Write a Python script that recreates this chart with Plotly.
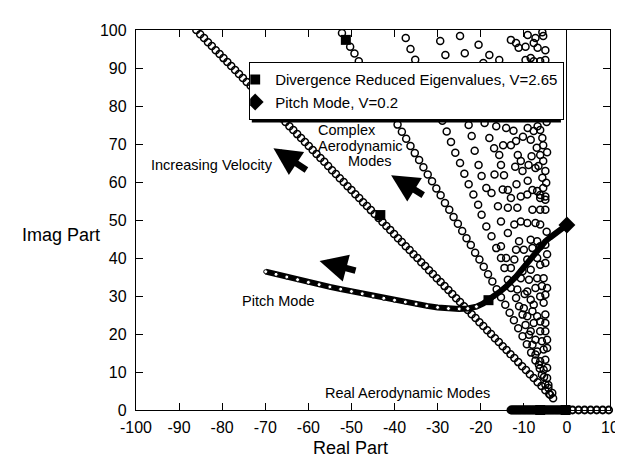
import plotly.graph_objects as go

# ---------------- data ----------------
# Complex aerodynamic mode locus A (densest ray)
modeA_x = [-86.0, -85.1, -84.2, -83.3, -82.4, -81.5, -80.6, -79.7, -78.8, -77.9,
           -77.0, -76.1, -75.2, -74.3, -73.4, -72.5, -71.6, -70.7, -69.8, -68.9,
           -68.0, -67.1, -66.2, -65.3, -64.4, -63.5, -62.6, -61.7, -60.8, -59.9,
           -59.0, -58.1, -57.2, -56.3, -55.4, -54.5, -53.6, -52.7, -51.8, -50.9,
           -50.0, -49.1, -48.2, -47.3, -46.4, -45.5, -44.6, -43.7, -42.8, -41.9,
           -41.0, -40.1, -39.2, -38.3, -37.4, -36.5, -35.6, -34.7, -33.8, -32.9,
           -32.0, -31.1, -30.2, -29.3, -28.4, -27.5, -26.6, -25.7, -24.8, -23.9,
           -23.0, -22.1, -21.2, -20.3, -19.4, -18.5, -17.6, -16.7, -15.8, -14.9,
           -14.0, -13.1, -12.2, -11.3, -10.4, -9.5, -8.6, -7.7, -6.8, -5.9,
           -5.0, -4.1, -3.2]
modeA_y = [100.0, 98.9, 97.9, 96.8, 95.8, 94.7, 93.7, 92.6, 91.6, 90.5,
           89.5, 88.4, 87.4, 86.3, 85.3, 84.2, 83.2, 82.1, 81.0, 80.0,
           78.9, 77.9, 76.8, 75.8, 74.7, 73.7, 72.6, 71.6, 70.5, 69.5,
           68.4, 67.4, 66.3, 65.3, 64.2, 63.1, 62.1, 61.0, 60.0, 58.9,
           57.9, 56.8, 55.8, 54.7, 53.7, 52.6, 51.6, 50.5, 49.5, 48.4,
           47.4, 46.3, 45.2, 44.2, 43.1, 42.1, 41.0, 40.0, 38.9, 37.9,
           36.8, 35.8, 34.7, 33.7, 32.6, 31.6, 30.5, 29.4, 28.4, 27.3,
           26.3, 25.2, 24.2, 23.1, 22.1, 21.0, 20.0, 18.9, 17.9, 16.8,
           15.8, 14.7, 13.7, 12.6, 11.5, 10.5, 9.4, 8.4, 7.3, 6.3,
           5.2, 4.2, 3.1]

# locus B
modeB_x = [-52.2, -51.3, -50.3, -49.3, -48.3, -47.3, -46.3, -45.3, -44.3, -43.3,
           -42.3, -41.3, -40.3, -39.3, -38.3, -37.3, -36.3, -35.3, -34.3, -33.3,
           -32.3, -31.3, -30.3, -29.3, -28.3, -27.3, -26.3, -25.3, -24.3, -23.3,
           -22.3, -21.3, -20.3, -19.3, -18.3, -17.3, -16.3, -15.3, -14.3, -13.3,
           -12.3, -11.3, -10.3, -9.3, -8.3, -7.3, -6.3, -5.3, -4.3, -3.4]
modeB_y = [99.2, 97.5, 95.6, 93.8, 91.8, 90.0, 88.2, 86.3, 84.4, 82.5,
           80.7, 78.9, 76.9, 75.1, 73.2, 71.4, 69.5, 67.6, 65.8, 63.9,
           62.0, 60.2, 58.3, 56.5, 54.5, 52.7, 50.8, 49.0, 47.1, 45.2,
           43.4, 41.4, 39.6, 37.7, 35.7, 33.8, 31.8, 29.7, 27.7, 25.6,
           23.6, 21.5, 19.4, 17.3, 15.1, 13.0, 10.9, 8.7, 6.6, 4.5]

# locus C
modeC_x = [-37.4, -36.3, -35.2, -34.2, -33.2, -32.1, -31.0, -30.0, -28.9, -27.9,
           -26.9, -25.9, -24.8, -23.8, -22.8, -21.7, -20.6, -19.8, -18.7, -17.5,
           -16.4, -15.3, -14.5, -13.7, -13.0, -11.8, -11.1, -10.3, -9.6, -8.8,
           -8.0, -7.3, -6.5, -5.8, -5.0, -3.9]
modeC_y = [97.9, 95.0, 92.2, 89.5, 86.8, 84.0, 81.4, 78.7, 76.1, 73.3,
           70.5, 67.7, 65.0, 62.2, 59.4, 56.7, 54.0, 51.4, 48.3, 45.7,
           42.6, 40.0, 37.4, 34.3, 32.1, 29.5, 27.3, 25.1, 22.4, 19.8,
           17.2, 14.6, 11.9, 9.3, 6.7, 4.0]

# remaining complex aerodynamic modes (scattered)
cloud_x = [-29.4, -28.2, -27.3, -26.4, -25.5,
           -24.8, -23.7, -20.5, -19.4, -18.0, -15.7, -13.0, -11.8, -11.2, -9.1,
           -7.7, -6.8, -5.5, -5.0, -9.6, -7.7, -6.2, -5.0, -7.3, -5.7, -9.6, -8.4,
           -22.8, -22.1, -21.4, -20.5, -19.8, -18.7,
           -19.1, -18.0, -16.9, -15.7, -15.3, -14.6, -13.7,
           -16.4, -14.1, -14.8, -13.0, -11.8, -11.4, -10.7, -10.3, -9.1, -8.0,
           -8.4, -7.7, -6.8, -6.2, -5.7, -5.5, -6.2, -5.5, -6.6, -5.0, -5.7,
           -5.5, -6.2, -5.0, -9.1, -8.9, -7.3,
           -12.4, -10.2, -12.0, -16.8, -11.7, -7.0, -8.2, -4.7, -4.6, -4.8,
           -17.5, -14.9, -13.0, -10.7, -9.2, -6.9, -6.2, -5.0,
           -16.0, -13.7, -11.5, -8.0, -6.2, -5.0,
           -15.3, -12.2, -10.7, -9.2, -7.3, -6.2,
           -13.7, -11.1, -8.4, -6.9, -4.7,
           -15.3, -11.8, -10.0, -8.0, -6.2, -5.0,
           -14.1, -12.2, -9.2, -6.9, -4.6,
           -13.0, -10.3, -8.4, -6.2, -5.0,
           -10.7, -8.8, -6.9, -5.4,
           -11.5, -9.2, -7.3, -5.8, -4.6,
           -8.4, -6.2, -5.0, -9.8,
           -10.0, -7.7, -5.4,
           -9.2, -6.9, -5.0, -8.0,
           -7.7, -6.2, -5.0,
           -8.4, -6.2, -5.0,
           -7.3, -5.8, -4.6,
           -6.9, -5.4, -4.6,
           -6.2, -5.0,
           -5.4, -4.6,
           -4.6, -4.3]
cloud_y = [97.1, 93.4, 89.8, 86.2, 82.6,
           98.4, 93.9, 96.1, 91.3, 93.4, 92.1, 97.4, 96.6, 95.3, 98.7,
           96.6, 95.3, 98.4, 94.7, 92.1, 91.8, 91.8, 92.1, 97.9, 99.4, 95.6, 92.6,
           75.0, 72.1, 68.2, 64.5, 61.6, 58.4,
           75.5, 71.6, 68.9, 67.1, 64.5, 61.8, 57.9,
           74.7, 74.2, 69.7, 69.7, 70.8, 67.1, 65.5, 62.9, 60.3, 57.9,
           71.1, 73.4, 74.7, 73.7, 71.6, 69.7, 67.1, 65.5, 64.2, 62.9, 61.1,
           58.4, 56.6, 55.3, 74.2, 64.5, 63.7,
           73.5, 71.9, 64.0, 62.0, 59.4, 69.0, 66.8, 75.8, 67.8, 59.8,
           57.1, 58.0, 55.8, 56.2, 56.7, 57.6, 55.8, 56.2,
           53.6, 53.2, 53.2, 52.7, 52.7, 52.7,
           49.6, 48.8, 49.6, 49.2, 49.2, 48.8,
           46.6, 44.4, 44.8, 44.4, 46.9,
           43.1, 42.2, 42.2, 42.6, 43.1, 43.5,
           40.0, 39.6, 39.6, 40.0, 41.0,
           37.4, 36.5, 36.9, 38.2, 38.7,
           34.7, 34.3, 34.7, 34.7,
           31.7, 31.2, 32.1, 32.6, 32.1,
           29.0, 29.9, 30.3, 30.5,
           26.8, 27.7, 28.2,
           24.7, 24.7, 25.1, 26.0,
           22.9, 23.3, 22.9,
           20.7, 20.7, 20.7,
           18.5, 18.1, 18.5,
           15.4, 15.9, 16.3,
           12.8, 13.2,
           10.6, 11.1,
           8.4, 5.8]

# pitch mode locus
pitch_x = [-69.9, -67.5, -65.0, -62.5, -60.0, -57.5, -55.0, -52.5, -50.0, -47.5,
           -45.0, -42.5, -40.0, -37.5, -35.0, -32.5, -30.0, -27.5, -25.0, -23.0,
           -21.0, -19.5, -18.2, -17.0, -15.7, -14.3, -13.0, -11.8, -10.7, -9.5,
           -8.4, -7.3, -6.2, -5.0, -3.9, -2.6, -1.3, 0.0]
pitch_y = [36.4, 35.7, 35.0, 34.3, 33.6, 33.0, 32.4, 31.8, 31.2, 30.6,
           30.0, 29.4, 28.9, 28.4, 27.9, 27.4, 27.0, 26.7, 26.6, 26.7,
           27.2, 28.0, 28.9, 29.8, 31.0, 32.3, 33.6, 35.1, 36.6, 38.3,
           40.0, 41.6, 43.2, 44.4, 45.4, 46.5, 47.6, 48.7]

# real aerodynamic modes on the real axis
real_x = [-13.0, -12.75, -12.5, -12.25, -12.0, -11.75, -11.5, -11.25, -11.0, -10.75,
          -10.5, -10.25, -10.0, -9.75, -9.5, -9.25, -9.0, -8.75, -8.5, -8.25,
          -8.0, -7.75, -7.5, -7.25, -7.0, -6.75, -6.5, -6.25, -6.0, -5.75,
          -5.5, -5.25, -5.0, -4.75, -4.5, -4.25, -4.0, -3.75, -3.5, -3.25,
          -3.0, -2.75, -2.5, -2.25, -2.0, -1.75, -1.5, -1.25, -1.0, -0.75,
          -0.5, -0.25, 0.0,
          1.3, 2.7, 4.1, 5.5, 6.9, 8.3, 9.7]
real_y = [0.0] * len(real_x)

# divergence reduced eigenvalues, V=2.65
div_x = [-51.3, -43.3, -18.2, -6.2, -0.3]
div_y = [97.4, 51.3, 28.9, 0.0, 0.0]

# pitch mode, V=0.2
pv_x = [0.0]
pv_y = [48.7]

x_ticks = [-100, -90, -80, -70, -60, -50, -40, -30, -20, -10, 0, 10]
y_ticks = [0, 10, 20, 30, 40, 50, 60, 70, 80, 90, 100]

FONT = "Liberation Sans, Arial, Helvetica, sans-serif"

# ---------------- figure ----------------
fig = go.Figure()

open_marker = dict(symbol="circle-open", size=7, color="black", line=dict(width=1.5, color="black"))
for xs, ys in [(modeA_x, modeA_y), (modeB_x, modeB_y), (modeC_x, modeC_y), (cloud_x, cloud_y)]:
    fig.add_trace(go.Scatter(x=xs, y=ys, mode="markers", marker=open_marker,
                             showlegend=False, hoverinfo="skip"))

# pitch locus: chain of small circles on the left, solid on the right
pitch_fill = ["white" if v < -20 else "black" for v in pitch_x]
fig.add_trace(go.Scatter(x=pitch_x, y=pitch_y, mode="lines+markers",
                         line=dict(color="black", width=6),
                         marker=dict(symbol="circle", size=4, color=pitch_fill,
                                     line=dict(width=1, color="black")),
                         showlegend=False, hoverinfo="skip"))

fig.add_trace(go.Scatter(x=real_x, y=real_y, mode="markers",
                         marker=dict(symbol="circle-open", size=7, color="black",
                                     line=dict(width=1.8, color="black")),
                         showlegend=False, hoverinfo="skip", cliponaxis=False))

fig.add_trace(go.Scatter(x=div_x, y=div_y, mode="markers",
                         name="Divergence Reduced Eigenvalues, V=2.65",
                         marker=dict(symbol="square", size=10, color="black"),
                         cliponaxis=False))
fig.add_trace(go.Scatter(x=pv_x, y=pv_y, mode="markers",
                         name="Pitch Mode, V=0.2",
                         marker=dict(symbol="diamond", size=13, color="black"),
                         cliponaxis=False))

axis_common = dict(showline=True, linecolor="black", linewidth=1.3, mirror="ticks",
                   ticks="inside", ticklen=7, tickwidth=1.3, tickcolor="black",
                   showgrid=False, tickfont=dict(family=FONT, size=16, color="black"))

fig.update_xaxes(range=[-100, 10], tickvals=x_ticks, ticktext=[str(v) for v in x_ticks],
                 zeroline=True, zerolinecolor="black", zerolinewidth=1.3,
                 ticklabelstandoff=3, **axis_common)
fig.update_yaxes(range=[0, 100], tickvals=y_ticks, ticktext=[str(v) for v in y_ticks],
                 zeroline=False, ticklabelstandoff=5, **axis_common)

annots = [
    dict(x=-96.8, y=64.5, text="Increasing Velocity", xanchor="left", yanchor="middle"),
    dict(x=-57.9, y=73.6, text="Complex", xanchor="left", yanchor="middle"),
    dict(x=-57.9, y=69.5, text="Aerodynamic", xanchor="left", yanchor="middle"),
    dict(x=-51.0, y=65.4, text="Modes", xanchor="left", yanchor="middle"),
    dict(x=-66.9, y=28.7, text="Pitch Mode", xanchor="center", yanchor="middle"),
    dict(x=-56.3, y=4.5, text="Real Aerodynamic Modes", xanchor="left", yanchor="middle"),
]
for a in annots:
    fig.add_annotation(xref="x", yref="y", showarrow=False, borderpad=0,
                       font=dict(family=FONT, size=14.5, color="black"), **a)

arrows = [
    ((-68.1, 68.9), (-60.1, 62.9)),
    ((-40.8, 61.8), (-33.0, 56.3)),
    ((-57.4, 39.2), (-48.7, 36.6)),
]
for (hx, hy), (tx, ty) in arrows:
    fig.add_annotation(x=hx, y=hy, ax=tx, ay=ty, xref="x", yref="y", axref="x", ayref="y",
                       text="", showarrow=True, arrowhead=2, arrowsize=0.85,
                       arrowwidth=6.5, arrowcolor="black")

fig.add_annotation(xref="paper", yref="paper", x=-0.244, y=0.46, text="Imag Part",
                   showarrow=False, xanchor="left", yanchor="middle",
                   font=dict(family=FONT, size=18, color="black"))
fig.add_annotation(xref="paper", yref="paper", x=(347 - 128) / 483, y=-0.1,
                   text="Real Part", showarrow=False, xanchor="center", yanchor="middle",
                   font=dict(family=FONT, size=18, color="black"))

# drop shadow behind the legend box
fig.add_shape(type="rect", xref="paper", yref="paper", layer="above",
              x0=0.2443, x1=0.8965, y0=0.7563, y1=0.9079,
              fillcolor="black", line=dict(width=0))

fig.update_layout(
    width=623, height=464,
    margin=dict(l=128, r=12, t=22, b=62),
    paper_bgcolor="white", plot_bgcolor="white",
    font=dict(family=FONT, color="black"),
    legend=dict(x=0.2381, y=0.9158, xanchor="left", yanchor="top",
                bgcolor="white", bordercolor="black", borderwidth=1.3,
                font=dict(family=FONT, size=15, color="black"),
                itemwidth=30, tracegroupgap=0, indentation=-15),
    showlegend=True,
)

fig.write_html("out.html")
